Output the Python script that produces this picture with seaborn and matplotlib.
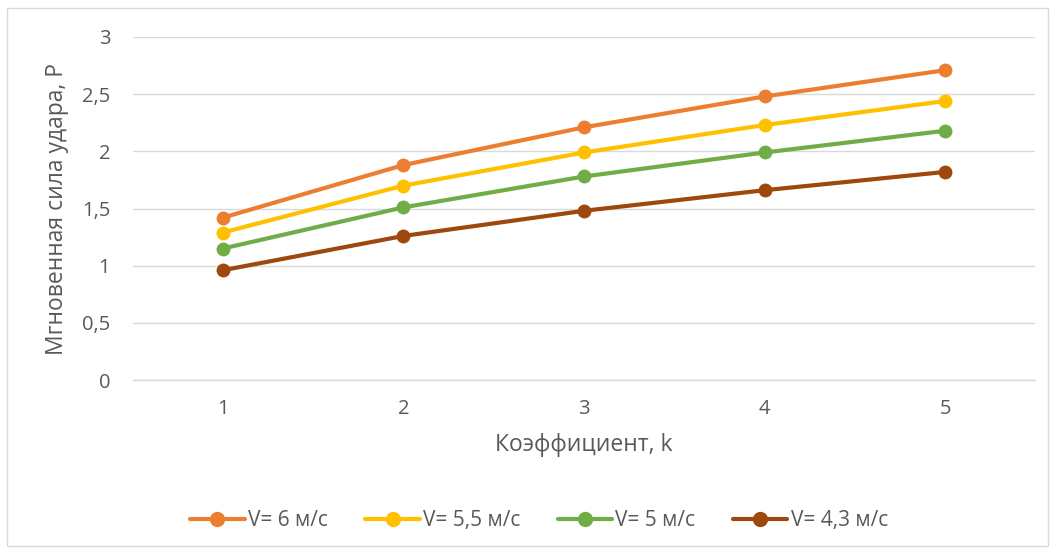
import matplotlib
matplotlib.use("Agg")
import matplotlib.pyplot as plt
import seaborn as sns
import pandas as pd
from matplotlib.patches import Rectangle

k_values = [1, 2, 3, 4, 5]
series_labels = ["V= 6 м/с", "V= 5,5 м/с", "V= 5 м/с", "V= 4,3 м/с"]
v_6 = [1.42, 1.88, 2.21, 2.48, 2.71]
v_5_5 = [1.29, 1.70, 1.99, 2.23, 2.44]
v_5 = [1.15, 1.51, 1.78, 1.99, 2.18]
v_4_3 = [0.96, 1.26, 1.48, 1.66, 1.82]
colors = ["#ED7D31", "#FFC000", "#70AD47", "#9E480E"]
y_ticks = [0, 0.5, 1, 1.5, 2, 2.5, 3]
y_tick_labels = ["0", "0,5", "1", "1,5", "2", "2,5", "3"]

rows = []
for label, vals in zip(series_labels, [v_6, v_5_5, v_5, v_4_3]):
    for k, p in zip(k_values, vals):
        rows.append({"k": k, "P": p, "series": label})
df = pd.DataFrame(rows)

sns.set_style("white")
plt.rcParams["font.family"] = ["Open Sans", "DejaVu Sans"]
text_color = "#595959"

fig = plt.figure(figsize=(10.55, 5.53), dpi=100)
ax = fig.add_axes([0.1256, 0.3128, 0.8559, 0.6203])

sns.lineplot(data=df, x="k", y="P", hue="series", hue_order=series_labels,
             palette=colors, marker="o", markersize=10, markeredgewidth=0,
             linewidth=3.0, ax=ax, legend=True, zorder=3)

ax.set_xlim(0.5, 5.5)
ax.set_ylim(0, 3)
ax.set_xticks(k_values)
ax.set_xticklabels([str(k) for k in k_values])
ax.set_yticks(y_ticks)
ax.set_yticklabels(y_tick_labels)
ax.grid(axis="y", color="#D9D9D9", linewidth=1)
ax.grid(axis="x", visible=False)
for s in ["top", "right", "left"]:
    ax.spines[s].set_visible(False)
ax.spines["bottom"].set_color("#D9D9D9")
ax.spines["bottom"].set_linewidth(1)
ax.tick_params(axis="both", length=0, labelsize=14.5, labelcolor=text_color)
ax.tick_params(axis="x", pad=14)
ax.tick_params(axis="y", pad=16)

ax.set_xlabel("Коэффициент, k", fontsize=16.5, color=text_color, labelpad=10)
ax.set_ylabel("Мгновенная сила удара, Р", fontsize=16.5, color=text_color, labelpad=9)

handles, labels = ax.get_legend_handles_labels()
for h in handles:
    h.set_markersize(11)
leg = fig.legend(handles, labels, loc="center", bbox_to_anchor=(0.511, 0.058),
                 ncol=4, frameon=False, fontsize=15, handlelength=2.6,
                 handletextpad=0.15, columnspacing=1.82)
for t in leg.get_texts():
    t.set_color(text_color)
if ax.get_legend():
    ax.get_legend().remove()

fig.patches.append(Rectangle((0.007, 0.012), 0.986, 0.974, transform=fig.transFigure,
                             fill=False, edgecolor="#D9D9D9", linewidth=1))

fig.savefig("out.png", dpi=100, facecolor="white")
